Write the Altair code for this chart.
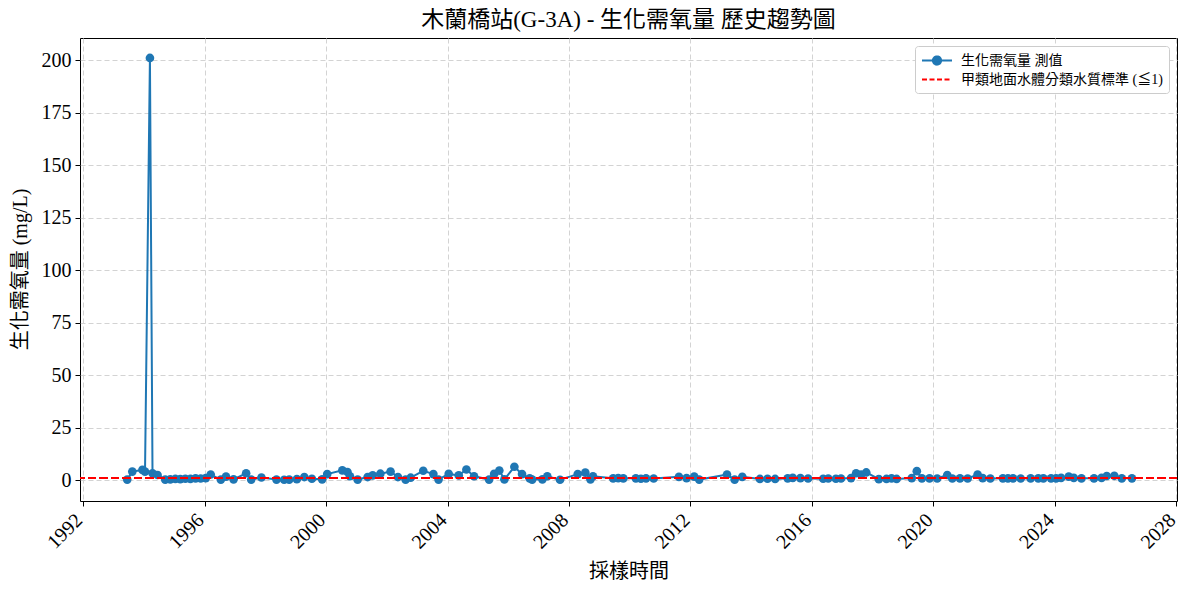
import altair as alt
import pandas as pd

dates = [
    "1993-06-15", "1993-08-15", "1993-12-15", "1994-01-15", "1994-03-15", "1994-04-15",
    "1994-06-15", "1994-09-15", "1994-11-15", "1995-01-15", "1995-03-15", "1995-05-15",
    "1995-07-15", "1995-09-15", "1995-11-15", "1996-01-15", "1996-03-15", "1996-07-15",
    "1996-09-15", "1996-12-15", "1997-05-15", "1997-07-15", "1997-11-15", "1998-05-15",
    "1998-08-15", "1998-10-15", "1999-01-15", "1999-04-15", "1999-07-15", "1999-11-15",
    "2000-01-15", "2000-07-15", "2000-09-15", "2000-10-15", "2001-01-15", "2001-05-15",
    "2001-07-15", "2001-10-15", "2002-02-15", "2002-05-15", "2002-08-15", "2002-10-15",
    "2003-03-15", "2003-07-15", "2003-09-15", "2004-01-15", "2004-05-15", "2004-08-15",
    "2004-11-15", "2005-05-15", "2005-07-15", "2005-09-15", "2005-11-15", "2006-03-15",
    "2006-06-15", "2006-09-15", "2006-10-15", "2007-02-15", "2007-04-15", "2007-09-15",
    "2008-04-15", "2008-07-15", "2008-09-15", "2008-10-15", "2009-06-15", "2009-08-15",
    "2009-10-15", "2010-03-15", "2010-05-15", "2010-07-15", "2010-10-15", "2011-08-15",
    "2011-11-15", "2012-02-15", "2012-04-15", "2013-03-15", "2013-06-15", "2013-09-15",
    "2014-04-15", "2014-07-15", "2014-10-15", "2015-03-15", "2015-05-15", "2015-08-15",
    "2015-11-15", "2016-05-15", "2016-07-15", "2016-10-15", "2016-12-15", "2017-04-15",
    "2017-06-15", "2017-08-15", "2017-10-15", "2018-03-15", "2018-06-15", "2018-08-15",
    "2018-10-15", "2019-04-15", "2019-06-15", "2019-08-15", "2019-11-15", "2020-02-15",
    "2020-06-15", "2020-08-15", "2020-11-15", "2021-02-15", "2021-06-15", "2021-08-15",
    "2021-11-15", "2022-04-15", "2022-06-15", "2022-08-15", "2022-11-15", "2023-03-15",
    "2023-06-15", "2023-08-15", "2023-11-15", "2024-01-15", "2024-03-15", "2024-06-15",
    "2024-08-15", "2024-11-15", "2025-04-15", "2025-07-15", "2025-09-15", "2025-12-15",
    "2026-03-15", "2026-07-15",
]

bod = [
    0.2, 4.0, 4.8, 4.0, 201.0, 3.2,
    2.4, 0.2, 0.3, 0.5, 0.4, 0.6,
    0.5, 0.8, 0.7, 0.9, 2.6, 0.2,
    1.6, 0.3, 3.2, 0.2, 1.2, 0.2,
    0.1, 0.2, 0.4, 1.4, 0.6, 0.3,
    2.8, 4.6, 3.8, 1.8, 0.2, 1.4,
    2.2, 3.0, 4.0, 1.4, 0.2, 1.1,
    4.4, 2.8, 0.2, 2.9, 2.2, 5.0,
    1.8, 0.2, 2.9, 4.5, 0.3, 6.3,
    2.8, 0.8, 0.2, 0.3, 1.8, 0.1,
    2.8, 3.5, 0.3, 1.8, 0.8, 0.9,
    0.8, 0.8, 0.6, 0.8, 0.7, 1.5,
    0.9, 1.6, 0.2, 2.6, 0.2, 1.5,
    0.5, 0.6, 0.5, 0.8, 1.0, 0.9,
    0.7, 0.6, 0.7, 0.6, 0.7, 0.9,
    3.2, 2.6, 3.6, 0.4, 0.5, 0.8,
    0.5, 0.9, 4.2, 0.8, 0.8, 0.7,
    2.4, 0.7, 0.8, 0.7, 2.6, 0.9,
    0.7, 0.8, 0.8, 0.8, 0.7, 0.8,
    0.8, 0.8, 0.8, 0.8, 1.0, 1.6,
    1.0, 0.8, 0.8, 1.0, 1.9, 2.0,
    0.8, 0.8,
]

series_names = ["生化需氧量 測值", "甲類地面水體分類水質標準 (≦1)"]
line_color = "#1f77b4"
standard_color = "#ff0000"
standard_value = 1
y_ticks = [0, 25, 50, 75, 100, 125, 150, 175, 200]
x_tick_years = [1992, 1996, 2000, 2004, 2008, 2012, 2016, 2020, 2024, 2028]

df = pd.DataFrame({"date": dates, "bod": bod})
legend_df = pd.DataFrame({"series": series_names})

FONT = "Liberation Serif, Noto Sans CJK TC"

x_scale = alt.Scale(domain=[alt.DateTime(year=1991, month=11, date=25),
                            alt.DateTime(year=2028, month=1, date=8)])
y_scale = alt.Scale(domain=[-10, 210.5], nice=False, zero=False)

# legend symbols: line with marker for the series, dashed line for the standard
circle_path = "M-1,0L3,0M1.55,0A0.55,0.55,0,1,1,0.45,0A0.55,0.55,0,1,1,1.55,0Z"
line_path = "M-1,0L3,0"

legend = alt.Legend(
    title=None,
    orient="top-right",
    offset=8,
    labelFont=FONT,
    labelFontSize=14,
    labelColor="#000000",
    labelOffset=23,
    labelLimit=400,
    symbolSize=225,
    symbolStrokeWidth=2,
    symbolOpacity=1,
    rowPadding=2,
    padding=6,
    fillColor="#ffffff",
    strokeColor="#cccccc",
    cornerRadius=3,
)

x_axis = alt.Axis(
    title="採樣時間",
    values=[alt.DateTime(year=y) for y in x_tick_years],
    format="%Y",
    labelAngle=315,
    labelAlign="right",
    labelBaseline="alphabetic",
    labelFont=FONT,
    labelFontSize=20,
    labelColor="#000000",
    labelPadding=15,
    tickColor="#000000",
    tickSize=5,
    domain=False,
    grid=True,
    gridColor="#d3d3d3",
    gridDash=[5, 3],
    titleFont=FONT,
    titleFontSize=20,
    titleFontWeight="normal",
    titleColor="#000000",
    titleY=70,
    titleBaseline="middle",
    labelOverlap=False,
)

y_axis = alt.Axis(
    title="生化需氧量 (mg/L)",
    values=y_ticks,
    labelFont=FONT,
    labelFontSize=20,
    labelColor="#000000",
    labelPadding=4,
    tickColor="#000000",
    tickSize=5,
    domain=False,
    grid=True,
    gridColor="#d3d3d3",
    gridDash=[5, 3],
    titleFont=FONT,
    titleFontSize=20,
    titleFontWeight="normal",
    titleColor="#000000",
    titleX=-60,
    titleY=231,
    titleAngle=270,
    titleAlign="center",
    titleBaseline="middle",
)

base = alt.Chart(df)

line = base.mark_line(strokeWidth=2, color=line_color).encode(
    x=alt.X("date:T", scale=x_scale, axis=x_axis),
    y=alt.Y("bod:Q", scale=y_scale, axis=y_axis),
)

points = base.mark_circle(size=75, opacity=1, color=line_color).encode(
    x="date:T",
    y="bod:Q",
)

rule = base.mark_rule(strokeWidth=2, strokeDash=[8, 3.5], color=standard_color).encode(
    y=alt.datum(standard_value),
)

legend_layer = alt.Chart(legend_df).transform_filter("false").mark_point(
    size=225, opacity=1, strokeWidth=2
).encode(
    shape=alt.Shape("series:N", scale=alt.Scale(domain=series_names, range=[circle_path, line_path]), legend=legend),
    fill=alt.Fill("series:N", scale=alt.Scale(domain=series_names, range=[line_color, "transparent"]), legend=legend),
    stroke=alt.Stroke("series:N", scale=alt.Scale(domain=series_names, range=[line_color, standard_color]), legend=legend),
    strokeDash=alt.StrokeDash("series:N", scale=alt.Scale(domain=series_names, range=[[1, 0], [5, 2.5]]), legend=legend),
)

chart = alt.layer(line, points, rule, legend_layer).properties(
    width=1097,
    height=463,
    background="#ffffff",
    title=alt.TitleParams(
        "木蘭橋站(G-3A) - 生化需氧量 歷史趨勢圖",
        font=FONT,
        fontSize=23,
        fontWeight="normal",
        color="#000000",
        offset=6,
    ),
    autosize=alt.AutoSizeParams(type="none"),
    padding={"left": 72, "top": 30, "right": 4, "bottom": 82},
).configure_view(
    stroke="#000000",
    strokeWidth=1,
)

chart.save("out.html", embed_options={"renderer": "svg", "actions": False})
